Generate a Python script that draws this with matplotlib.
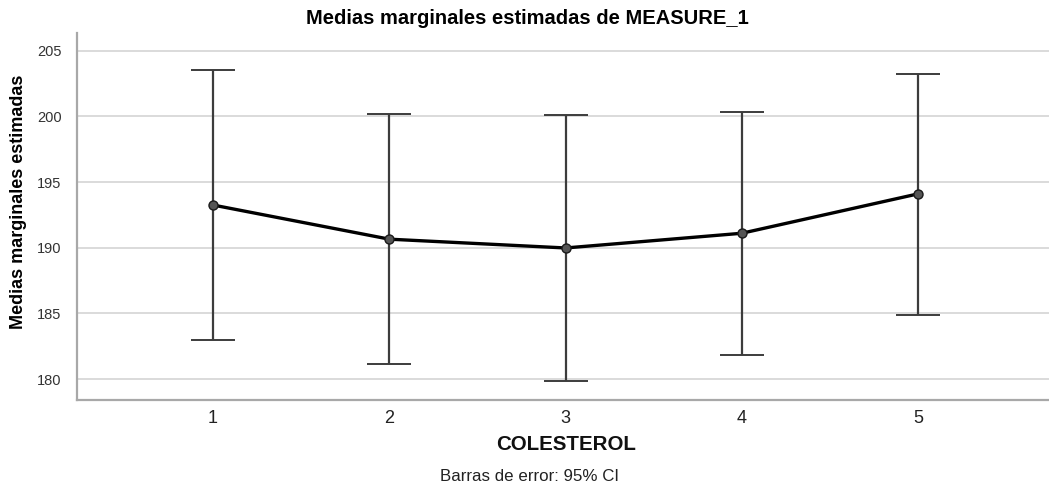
import matplotlib
matplotlib.use("Agg")
import matplotlib.pyplot as plt
from matplotlib import font_manager

# Estimated marginal means per cholesterol level, with 95% CI bounds
niveles = [1, 2, 3, 4, 5]
medias = [193.25, 190.65, 189.98, 191.1, 194.1]
ic_inf = [182.97, 181.12, 179.83, 181.83, 184.9]
ic_sup = [203.55, 200.15, 200.07, 200.37, 203.25]
yticks = [180, 185, 190, 195, 200, 205]

plt.rcParams['font.family'] = ['Liberation Sans', 'DejaVu Sans']

narrow = 'Liberation Sans Narrow'
installed = {f.name for f in font_manager.fontManager.ttflist}
if narrow not in installed:
    narrow = 'Liberation Sans'

fig = plt.figure(figsize=(10.49, 4.87), dpi=100)
ax = fig.add_axes([0.0734, 0.1786, 0.9266, 0.7536])

err_lo = [m - lo for m, lo in zip(medias, ic_inf)]
err_hi = [hi - m for m, hi in zip(medias, ic_sup)]

ax.errorbar(niveles, medias, yerr=[err_lo, err_hi], fmt='none',
            ecolor='#3c3c3c', elinewidth=1.6, capsize=16, capthick=1.4, zorder=3)
ax.plot(niveles, medias, color='black', linewidth=2.4, zorder=4)
ax.plot(niveles, medias, 'o', markersize=6.5, markerfacecolor='#555555',
        markeredgecolor='#1a1a1a', markeredgewidth=1.0, zorder=5)

ax.set_xlim(0.228, 5.743)
ax.set_ylim(178.4, 206.35)
ax.set_xticks(niveles)
ax.set_yticks(yticks)
ax.tick_params(axis='x', length=0, labelsize=13, labelcolor='#222222', pad=7)
ax.tick_params(axis='y', length=0, labelsize=10.5, labelcolor='#333333', pad=11)

ax.grid(axis='y', color='#d4d4d4', linewidth=1.2)
ax.set_axisbelow(True)
for side in ['top', 'right']:
    ax.spines[side].set_visible(False)
for side in ['left', 'bottom']:
    ax.spines[side].set_color('#a8a8a8')
    ax.spines[side].set_linewidth(1.6)

fig.text(0.503, 0.962, 'Medias marginales estimadas de MEASURE_1',
         ha='center', va='center', fontsize=14.5, fontweight='bold')
fig.text(0.54, 0.088, 'COLESTEROL', ha='center', va='center',
         fontsize=14.8, fontweight='bold', color='#111111')
fig.text(0.505, 0.022, 'Barras de error: 95% CI', ha='center', va='center',
         fontsize=12.2, color='#222222')
fig.text(0.018, 0.585, 'Medias marginales estimadas', ha='center', va='center',
         rotation=90, fontsize=13, fontweight='bold', family=narrow)

fig.savefig('out.png', dpi=100, facecolor='white')
